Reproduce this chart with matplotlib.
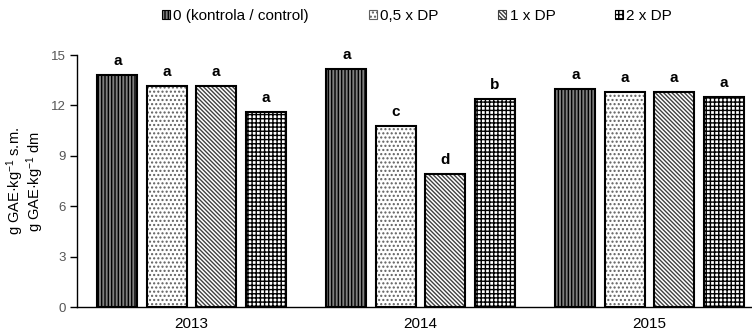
import matplotlib
matplotlib.use("Agg")
import matplotlib.pyplot as plt
import numpy as np

plt.rcParams['font.family'] = ['Liberation Sans', 'DejaVu Sans']
plt.rcParams['mathtext.fontset'] = 'custom'
plt.rcParams['mathtext.rm'] = 'Liberation Sans'
plt.rcParams['mathtext.it'] = 'Liberation Sans:italic'
plt.rcParams['mathtext.bf'] = 'Liberation Sans:bold'
plt.rcParams['hatch.linewidth'] = 1.0

# Data
years = ['2013', '2014', '2015']
treatments = ['0 (kontrola / control)', '0,5 x DP', '1 x DP', '2 x DP']
values = {
    '0 (kontrola / control)': [13.8, 14.15, 12.98],
    '0,5 x DP': [13.15, 10.77, 12.78],
    '1 x DP': [13.15, 7.9, 12.78],
    '2 x DP': [11.6, 12.38, 12.48],
}
letters = {
    '0 (kontrola / control)': ['a', 'a', 'a'],
    '0,5 x DP': ['a', 'c', 'a'],
    '1 x DP': ['a', 'd', 'a'],
    '2 x DP': ['a', 'b', 'a'],
}
yticks = [0, 3, 6, 9, 12, 15]
ylabel_lines = ['g GAE·kg$^{-1}$ s.m.', 'g GAE·kg$^{-1}$ dm']

# Fill / hatch styling for each treatment
styles = [
    dict(face='#808080', hatch='|||||', hcol='black'),
    dict(face='white', hatch='....', hcol='#606060'),
    dict(face='white', hatch='\\\\\\\\\\\\\\\\', hcol='#404040'),
    dict(face='white', hatch='++++', hcol='black'),
]

W, H = 752, 333
fig = plt.figure(figsize=(W / 100, H / 100), dpi=100)
ax_left, ax_bottom, ax_top = 77, 307, 55
group_px = 229
ax = fig.add_axes([ax_left / W, (H - ax_bottom) / H,
                   3 * group_px / W, (ax_bottom - ax_top) / H])

x = np.arange(len(years))
pitch = 0.216
width = 0.175
offsets = (np.arange(len(treatments)) - 1.5) * pitch

handles = []
for i, t in enumerate(treatments):
    st = styles[i]
    pos = x + offsets[i]
    ax.bar(pos, values[t], width, color=st['face'], edgecolor=st['hcol'],
           hatch=st['hatch'], linewidth=0, zorder=2)
    ax.bar(pos, values[t], width, fill=False, edgecolor='black',
           linewidth=1.5, zorder=3)
    for xi, v, lab in zip(pos, values[t], letters[t]):
        ax.annotate(lab, (xi, v), xytext=(0, 7.5), textcoords='offset points',
                    ha='center', va='baseline', fontsize=11, fontweight='bold',
                    annotation_clip=False)
    h = plt.Rectangle((0, 0), 1, 1, facecolor=st['face'], edgecolor=st['hcol'],
                      hatch=st['hatch'], linewidth=0.8)
    handles.append(h)

ax.set_xlim(-0.5, 2.5)
ax.set_ylim(0, 15)
ax.set_yticks(yticks)
ax.set_xticks(x)
ax.set_xticklabels(years, fontsize=11)
ax.tick_params(axis='x', length=0, pad=7)
ax.tick_params(axis='y', length=5, width=1, direction='out', labelsize=9.5,
               labelcolor='#555555', pad=3)
for s in ['top', 'right']:
    ax.spines[s].set_visible(False)
ax.spines['left'].set_linewidth(1)
ax.spines['bottom'].set_linewidth(1)

# Two-line axis title, drawn as rotated lines
yc = 1 - 181 / H
fig.text(15 / W, yc, ylabel_lines[0], rotation=90, ha='center', va='center',
         fontsize=10.5)
fig.text(35 / W, yc, ylabel_lines[1], rotation=90, ha='center', va='center',
         fontsize=10.5)

leg = fig.legend(handles, treatments, loc='center', ncol=4,
                 bbox_to_anchor=(417 / W, 1 - 16 / H), frameon=False,
                 fontsize=11, handlelength=0.55, handleheight=0.55,
                 handletextpad=0.2, columnspacing=3.9, borderpad=0)

fig.savefig('out.png', dpi=100)
